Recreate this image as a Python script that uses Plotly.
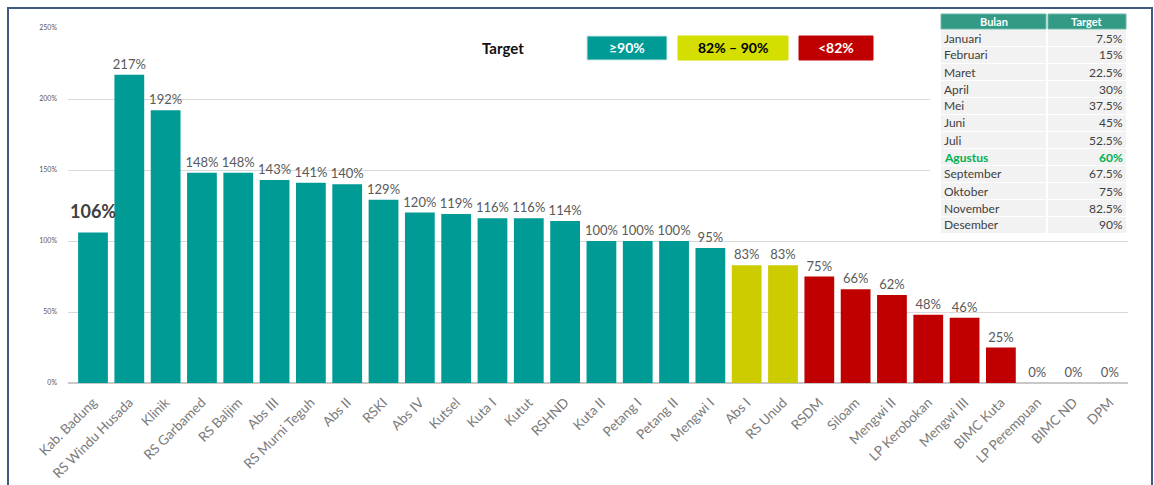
import plotly.graph_objects as go

categories = ["Kab. Badung", "RS Windu Husada", "Klinik", "RS Garbamed", "RS Baljim", "Abs III",
              "RS Murni Teguh", "Abs II", "RSKI", "Abs IV", "Kutsel", "Kuta I", "Kutut", "RSHND",
              "Kuta II", "Petang I", "Petang II", "Mengwi I", "Abs I", "RS Unud", "RSDM", "Siloam",
              "Mengwi II", "LP Kerobokan", "Mengwi III", "BIMC Kuta", "LP Perempuan", "BIMC ND", "DPM"]
values = [106, 217, 192, 148, 148, 143, 141, 140, 129, 120, 119, 116, 116, 114,
          100, 100, 100, 95, 83, 83, 75, 66, 62, 48, 46, 25, 0, 0, 0]

months = ["Januari", "Februari", "Maret", "April", "Mei", "Juni", "Juli", "Agustus",
          "September", "Oktober", "November", "Desember"]
targets = ["7.5%", "15%", "22.5%", "30%", "37.5%", "45%", "52.5%", "60%",
           "67.5%", "75%", "82.5%", "90%"]
table_header = ["Bulan", "Target"]
current_month = "Agustus"

legend_title = "Target"
legend_labels = ["≥90%", "82% – 90%", "<82%"]

TEAL = "#009B95"
YELLOW = "#CCCC00"
RED = "#C00000"
FONT = "Lato"

W, H = 1154, 485
ML, MR, MT, MB = 68, 26, 10, 102
PW, PH = W - ML - MR, H - MT - MB


def px(x):
    return (x - ML) / PW


def py(y):
    return (H - MB - y) / PH


def color_for(v):
    if v >= 90:
        return TEAL
    if v >= 82:
        return YELLOW
    return RED


bar_colors = [color_for(v) for v in values]
bar_text = ["" if i == 0 else f"{v}%" for i, v in enumerate(values)]

fig = go.Figure()
fig.add_trace(go.Bar(
    x=categories, y=values,
    marker=dict(color=bar_colors, line=dict(width=0)),
    text=bar_text, textposition="outside", cliponaxis=False,
    constraintext="none",
    textfont=dict(family=FONT, size=13, color="#595959"),
    hoverinfo="x+y",
))

shapes = []
annotations = [
    dict(x=categories[0], y=values[0], xref="x", yref="y", text=f"<b>{values[0]}%</b>",
         showarrow=False, xanchor="center", yanchor="bottom", yshift=8,
         font=dict(family=FONT, size=18, color="#404040")),
    dict(x=px(503), y=py(48), xref="paper", yref="paper", text=f"<b>{legend_title}</b>",
         showarrow=False, xanchor="center", yanchor="middle",
         font=dict(family=FONT, size=15, color="#111111")),
]

# legend boxes
box_specs = [(587, 667, TEAL, "white"), (678, 788, "#D4DE00", "black"), (799, 873, RED, "white")]
for (x0, x1, bg, fc), lab in zip(box_specs, legend_labels):
    shapes.append(dict(type="rect", xref="paper", yref="paper", x0=px(x0), x1=px(x1),
                       y0=py(60), y1=py(36), fillcolor=bg,
                       line=dict(color="#CFE6E4" if bg == TEAL else bg, width=1), layer="above"))
    annotations.append(dict(x=px((x0 + x1) / 2), y=py(48), xref="paper", yref="paper",
                            text=f"<b>{lab}</b>", showarrow=False,
                            xanchor="center", yanchor="middle",
                            font=dict(family=FONT, size=14, color=fc)))

# monthly target table
c1 = (941, 1046)
c2 = (1048, 1126)
HEAD = "#339A86"
shapes.append(dict(type="rect", xref="paper", yref="paper", x0=px(930), x1=px(1130),
                   y0=py(236), y1=py(12), fillcolor="white", line=dict(width=0), layer="above"))
for (a, b), lab in zip((c1, c2), table_header):
    shapes.append(dict(type="rect", xref="paper", yref="paper", x0=px(a), x1=px(b),
                       y0=py(29), y1=py(14), fillcolor=HEAD,
                       line=dict(color="#6DB8A8", width=1), layer="above"))
    annotations.append(dict(x=px((a + b) / 2), y=py(21.5), xref="paper", yref="paper",
                            text=f"<b>{lab}</b>", showarrow=False,
                            xanchor="center", yanchor="middle",
                            font=dict(family=FONT, size=11, color="white")))
for i, (m, t) in enumerate(zip(months, targets)):
    cy = 38 + 17 * i
    cur = m == current_month
    col = "#00B050" if cur else "#404040"
    for (a, b) in (c1, c2):
        shapes.append(dict(type="rect", xref="paper", yref="paper", x0=px(a), x1=px(b),
                           y0=py(cy + 8), y1=py(cy - 8), fillcolor="#F2F2F2",
                           line=dict(width=0), layer="above"))
    annotations.append(dict(x=px(c1[0] + 1), y=py(cy), xref="paper", yref="paper",
                            xanchor="left", yanchor="middle",
                            text=f"<b>{m}</b>" if cur else m, showarrow=False,
                            font=dict(family=FONT, size=12, color=col)))
    annotations.append(dict(x=px(c2[1] - 1), y=py(cy), xref="paper", yref="paper",
                            xanchor="right", yanchor="middle",
                            text=f"<b>{t}</b>" if cur else t, showarrow=False,
                            font=dict(family=FONT, size=12, color=col)))

# outer frame
shapes.append(dict(type="rect", xref="paper", yref="paper",
                   x0=px(8), x1=px(1152), y0=py(495), y1=py(8),
                   line=dict(color="#3F5A80", width=2), fillcolor="rgba(0,0,0,0)", layer="below"))

fig.update_layout(
    width=W, height=H,
    margin=dict(l=ML, r=MR, t=MT, b=MB, autoexpand=False),
    paper_bgcolor="white", plot_bgcolor="white",
    bargap=0.18, showlegend=False,
    font=dict(family=FONT, color="#595959"),
    annotations=annotations, shapes=shapes,
    xaxis=dict(tickangle=-45, tickfont=dict(family=FONT, size=13.5, color="#7A7A7A"),
               showgrid=False, showline=False, ticks="", automargin=False,
               ticklabelstandoff=8),
    yaxis=dict(range=[0, 250], dtick=50, ticksuffix="%", domain=[0, py(28)],
               tickfont=dict(family=FONT, size=7, color="#595959"), automargin=False,
               ticklabelstandoff=10,
               gridcolor="#D9D9D9", gridwidth=1, zeroline=True, zerolinecolor="#C8C8C8",
               zerolinewidth=1.5, showline=False),
)

fig.write_html("out.html", config={"responsive": False, "displayModeBar": False},
               post_script="document.body.style.margin='0';document.body.style.overflow='hidden';")
